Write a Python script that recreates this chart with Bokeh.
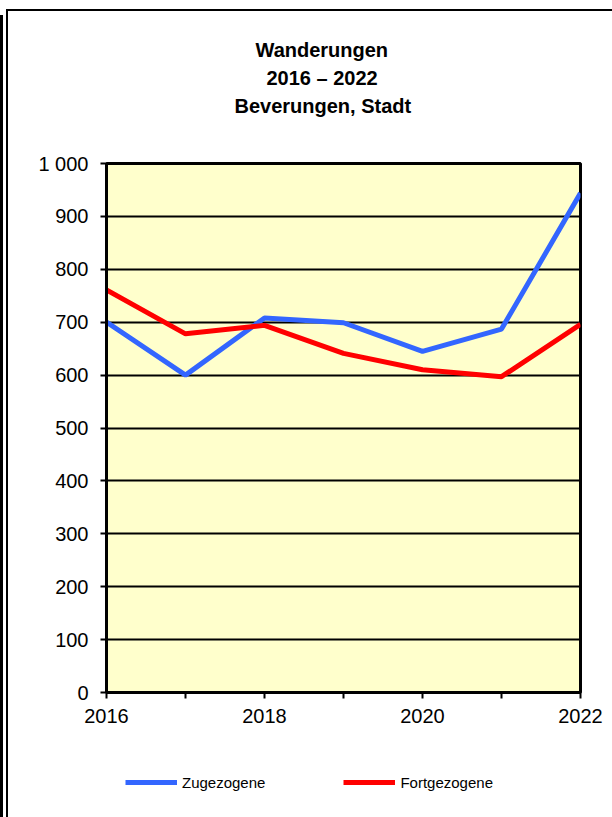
from bokeh.plotting import figure
from bokeh.models import Title, Legend, LegendItem, FixedTicker
from bokeh.layouts import column
from bokeh.embed import file_html
from bokeh.resources import INLINE

years = [2016, 2017, 2018, 2019, 2020, 2021, 2022]
zugezogene = [700, 600, 708, 699, 645, 687, 944]
fortgezogene = [761, 678, 694, 641, 610, 597, 696]
y_ticks = [0, 100, 200, 300, 400, 500, 600, 700, 800, 900, 1000]
x_labels = {2016: "2016", 2017: "", 2018: "2018", 2019: "", 2020: "2020", 2021: "", 2022: "2022"}
title_lines = ["Wanderungen", "2016 \u2013 2022", "Beverungen, Stadt"]
title_offsets = [149, 160, 128]
series_names = ["Zugezogene", "Fortgezogene"]
series_colors = ["#3366FF", "#FF0000"]

FONT = "Liberation Sans"

top_styles = {
    "background-color": "white",
    "background-image": "linear-gradient(#000,#000), linear-gradient(#000,#000), linear-gradient(#000,#000)",
    "background-position": "0px 15px, 6px 9px, 6px 9px",
    "background-size": "3px 100%, 2px 100%, 100% 2px",
    "background-repeat": "no-repeat",
}
bottom_styles = {
    "background-color": "white",
    "background-image": "linear-gradient(#000,#000), linear-gradient(#000,#000)",
    "background-position": "0px 0px, 6px 0px",
    "background-size": "3px 100%, 2px 100%",
    "background-repeat": "no-repeat",
}

p = figure(frame_width=474, frame_height=529, output_backend="svg", toolbar_location=None,
           x_range=(2016, 2022), y_range=(0, 1000),
           min_border_left=106, min_border_right=32, min_border_top=163, min_border_bottom=68,
           background_fill_color="#FFFFCC", border_fill_alpha=0,
           outline_line_color="black", outline_line_width=3,
           styles=top_styles)

p.line(years, zugezogene, line_color=series_colors[0], line_width=5)
p.line(years, fortgezogene, line_color=series_colors[1], line_width=5)

p.xgrid.visible = False
p.ygrid.grid_line_color = "black"
p.ygrid.grid_line_width = 2
p.ygrid.ticker = FixedTicker(ticks=y_ticks)

p.yaxis.ticker = FixedTicker(ticks=y_ticks)
p.yaxis.major_label_overrides = {1000: "1 000"}
p.xaxis.ticker = FixedTicker(ticks=years)
p.xaxis.major_label_overrides = x_labels
for ax in (p.xaxis, p.yaxis):
    ax.axis_line_color = "black"
    ax.axis_line_width = 3
    ax.major_tick_line_color = "black"
    ax.major_tick_line_width = 2
    ax.major_tick_out = 6
    ax.major_tick_in = 0
    ax.minor_tick_line_color = None
    ax.major_label_text_font = FONT
    ax.major_label_text_color = "black"
    ax.major_label_text_font_size = "20px"
p.yaxis.major_label_standoff = 12
p.xaxis.major_label_standoff = 10

# spacer between frame and title block, then title lines stacked upward
p.add_layout(Title(text=" ", standoff=21, text_font=FONT, text_font_size="20px"), "above")
for t, o in zip(reversed(title_lines), reversed(title_offsets)):
    p.add_layout(Title(text=t, align="left", offset=o, standoff=4,
                       text_font=FONT, text_font_size="20px", text_font_style="bold",
                       text_color="black"), "above")

# legend strip below the chart (series drawn outside its range, only the legend shows)
q = figure(width=612, height=57, output_backend="svg", toolbar_location=None,
           x_range=(0, 1), y_range=(0, 1), min_border=0,
           background_fill_alpha=0, border_fill_alpha=0, outline_line_color=None,
           styles=bottom_styles)
q.axis.visible = False
q.grid.visible = False
items = []
for name, col, vals in zip(series_names, series_colors, [zugezogene, fortgezogene]):
    r = q.line(years, vals, line_color=col, line_width=5)
    items.append(LegendItem(label=name, renderers=[r]))

legend = Legend(items=items, orientation="horizontal", location=(19, 25),
                glyph_width=52, glyph_height=20, label_standoff=5, spacing=78,
                padding=0, margin=0,
                border_line_alpha=0, background_fill_alpha=0,
                label_text_font=FONT, label_text_font_size="15px", label_text_color="black")
q.add_layout(legend)

layout = column(p, q, spacing=0)
open("out.html", "w").write(file_html(layout, INLINE))
